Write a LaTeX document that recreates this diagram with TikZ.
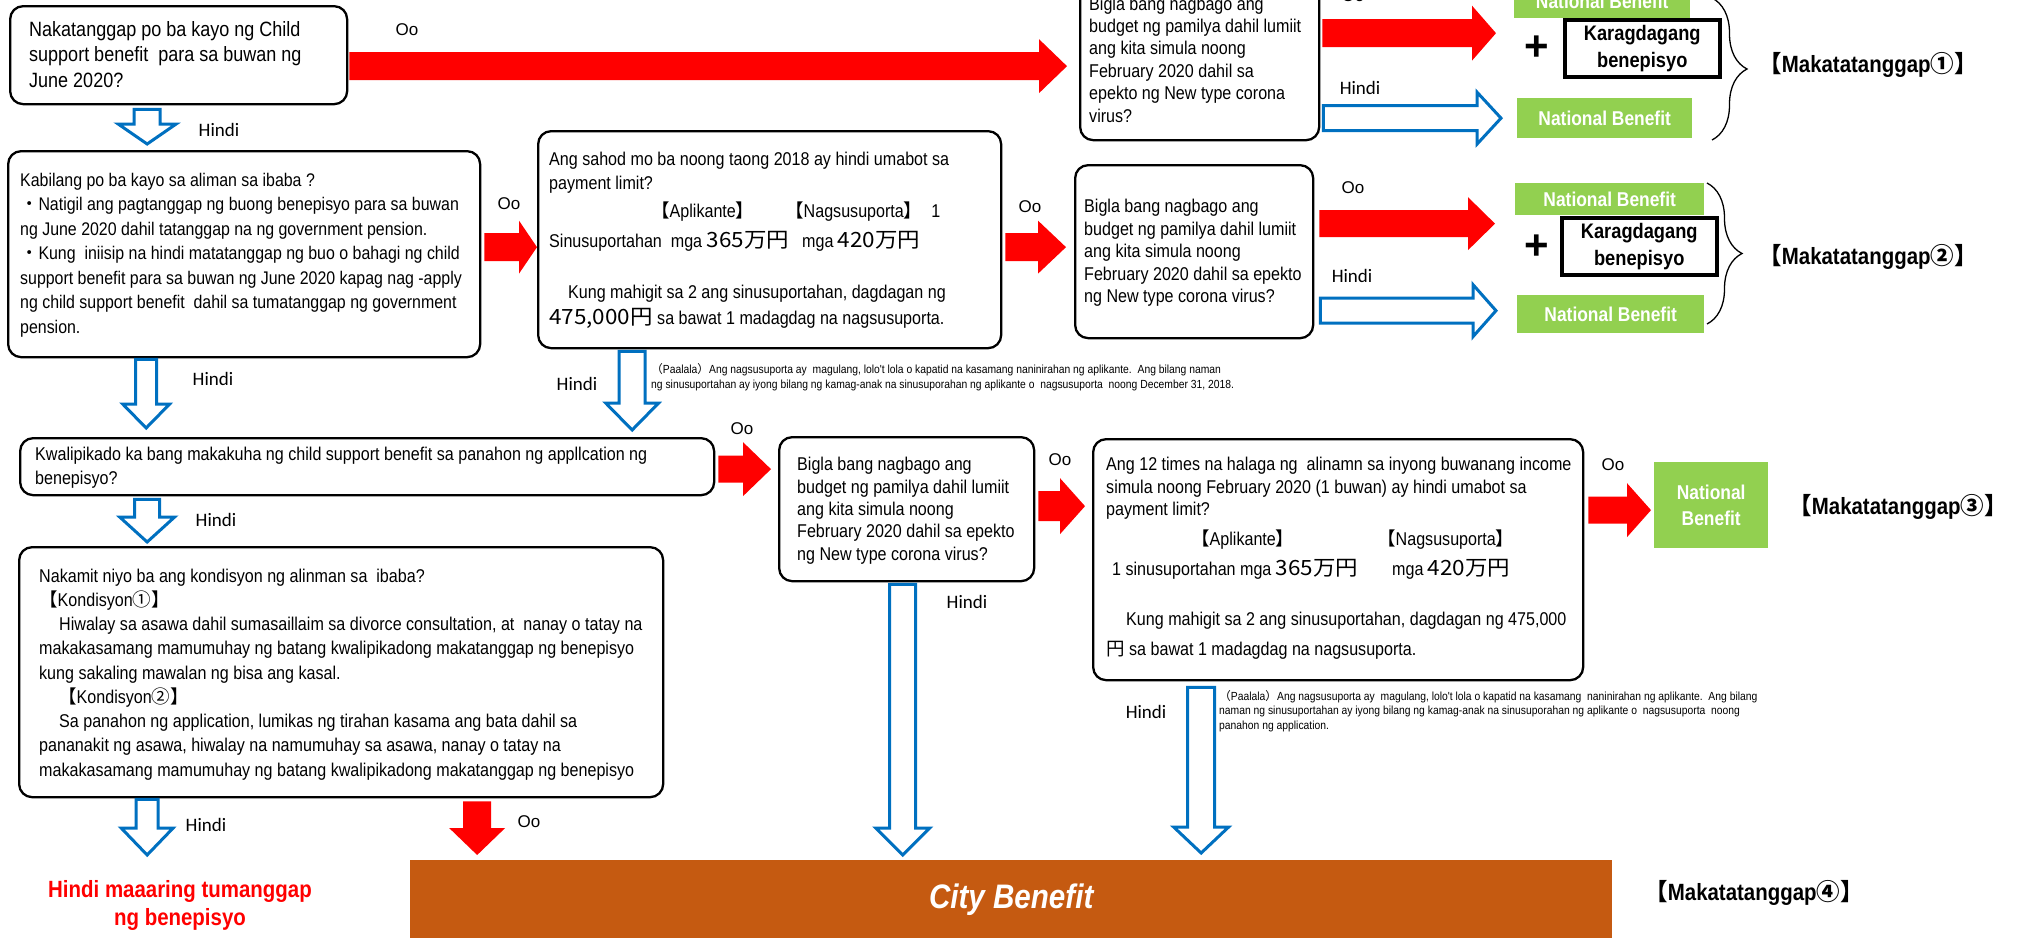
\documentclass[tikz,border=0pt]{standalone}
\usepackage{fontspec}
\setmainfont{Liberation Sans}[FakeStretch=0.87]
\newfontfamily\plainf{Liberation Sans}
\newfontfamily\calib{Carlito}
\newfontfamily\cjk{Noto Sans CJK JP}
\newfontfamily\cjkn{Noto Sans CJK JP}[FakeStretch=1.07]
\newfontfamily\notef{Liberation Sans}[FakeStretch=0.88]
\usetikzlibrary{calc,decorations.pathreplacing}
\definecolor{xred}{HTML}{FF0000}
\definecolor{xblue}{HTML}{0070C0}
\definecolor{xgreen}{HTML}{92D050}
\definecolor{xbrown}{HTML}{C55A11}
\newcommand\setfs[2]{\fontsize{#1pt}{#2pt}\selectfont}
\newcommand\jlb{{\cjk 【}}
\newcommand\jrb{{\cjk 】}}
\newcommand\jn[1]{{\cjkn\fontsize{21pt}{21pt}\selectfont #1}}
% horizontal block arrow: style, start, tip, body half, head half, head length
\newcommand\hblk[6]{\path[#1] let \p1=#2, \p2=#3 in
  (\x1,\y1+#4) -- (\x2-#6,\y1+#4) -- (\x2-#6,\y1+#5) -- (\x2,\y1) -- (\x2-#6,\y1-#5) -- (\x2-#6,\y1-#4) -- (\x1,\y1-#4) -- cycle;}
% vertical (downward) block arrow
\newcommand\vblk[6]{\path[#1] let \p1=#2, \p2=#3 in
  (\x1-#4,\y1) -- (\x1-#4,\y2+#6) -- (\x1-#5,\y2+#6) -- (\x1,\y2) -- (\x1+#5,\y2+#6) -- (\x1+#4,\y2+#6) -- (\x1+#4,\y1) -- cycle;}
\begin{document}
\begin{tikzpicture}[x=1pt,y=-1pt,
  qbox/.style 2 args={draw=black, line width=2.3pt, rounded corners=13pt, fill=white, anchor=north west, inner sep=0pt, minimum width=#1pt, minimum height=#2pt},
  gbox/.style 2 args={fill=xgreen, anchor=north west, inner sep=0pt, minimum width=#1pt, minimum height=#2pt, text=white, font=\bfseries\setfs{20}{26}, align=center},
  kbox/.style 2 args={draw=black, line width=3.5pt, fill=white, anchor=north west, inner sep=0pt, minimum width=#1pt, minimum height=#2pt, font=\bfseries\setfs{21}{27}, align=center},
  txt/.style={anchor=north west, inner sep=0pt, align=left},
  redblk/.style={fill=xred},
  blueblk/.style={draw=xblue, line width=3pt, fill=white},
  lab/.style={font=\plainf\setfs{17}{20}, inner sep=0pt},
  hin/.style={font=\calib\setfs{19}{22}, inner sep=0pt},
  mk/.style={font=\bfseries\setfs{23.5}{28}, inner sep=0pt}]
\useasboundingbox (0,0) rectangle (2022,938);
\fill[white] (0,0) rectangle (2022,938);

% ---------- boxes ----------
\node[qbox={337}{98}] (b1) at (9,5) {};
\node[qbox={472}{206}] (b2) at (7,150) {};
\node[qbox={463}{217}] (b3) at (537,130) {};
\node[qbox={239}{164}] (q1) at (1079,-25) {};
\node[qbox={238}{173}] (q2) at (1074,164) {};
\node[qbox={694}{57}] (b4) at (19,437) {};
\node[qbox={255}{144}] (q3) at (778,436) {};
\node[qbox={490}{241}] (b5) at (1092,438) {};
\node[qbox={644}{250}] (b6) at (18,546) {};

\node[gbox={176}{34}] (g1) at (1514,-16) {National Benefit};
\node[gbox={175}{40}] (g2) at (1517,98) {National Benefit};
\node[gbox={189}{32}] (g3) at (1515,183) {National Benefit};
\node[gbox={187}{38}] (g4) at (1517,295) {National Benefit};
\node[gbox={114}{86}] (g5) at (1654,462) {National\\Benefit};

\node[kbox={155}{57}] (k1) at (1563,18) {Karagdagang\\benepisyo};
\node[kbox={155}{57}] (k2) at (1560,216) {Karagdagang\\benepisyo};
\node[font=\plainf\bfseries\setfs{42}{42}, inner sep=0pt] (p1) at (1537,48) {+};
\node[font=\plainf\bfseries\setfs{42}{42}, inner sep=0pt] (p2) at (1537,247) {+};

\node[fill=xbrown, anchor=north west, minimum width=1202pt, minimum height=78pt, inner sep=0pt, text=white, font=\bfseries\itshape\setfs{34}{34}] (city) at (410,860) {City Benefit};

% ---------- braces ----------
\draw[decorate, decoration={brace, amplitude=35pt}, line width=1.3pt] (1712,-2) -- (1712,140);
\draw[decorate, decoration={brace, amplitude=35pt}, line width=1.3pt] (1707,183) -- (1707,324);

% ---------- red arrows ----------
\hblk{redblk}{($(b1.east)+(1,11)$)}{($(q1.west)+(-12,0)$)}{14pt}{27pt}{28pt}
\hblk{redblk}{($(b2.east)+(3,-7)$)}{(b3.west)}{14pt}{26.5pt}{18pt}
\hblk{redblk}{($(b3.east)+(3,7.5)$)}{($(q2.west)+(-8,0)$)}{14pt}{26.5pt}{28pt}
\hblk{redblk}{($(q1.east)+(2,-25)$)}{($(g1.west)+(-18,0)$)}{14pt}{27.5pt}{24pt}
\hblk{redblk}{($(q2.east)+(5,-28)$)}{($(g3.west)+(-20,0)$)}{13.5pt}{26.5pt}{27pt}
\hblk{redblk}{($(b4.east)+(3,2.5)$)}{($(q3.west)+(-7,0)$)}{13.5pt}{27pt}{28pt}
\hblk{redblk}{($(q3.east)+(3,-3)$)}{($(b5.west)+(-7,0)$)}{15pt}{28pt}{25pt}
\hblk{redblk}{($(b5.east)+(4,-49.5)$)}{($(g5.west)+(-3,0)$)}{13.5pt}{27pt}{24pt}
\vblk{redblk}{($(b6.south)+(136,3)$)}{($(city.north)+(0,-5)$)}{14pt}{28pt}{27pt}

% ---------- blue arrows ----------
\hblk{blueblk}{($(q1.east)+(3,60)$)}{($(g2.west)+(-16,0)$)}{12.5pt}{26pt}{24pt}
\hblk{blueblk}{($(q2.east)+(6,59)$)}{($(g4.west)+(-21,0)$)}{12.5pt}{26pt}{23pt}
\vblk{blueblk}{($(b1.south)+(-31.5,4)$)}{($(b2.north)+(0,-6)$)}{13pt}{29pt}{20pt}
\vblk{blueblk}{($(b2.south)+(-98,1)$)}{($(b4.north)+(0,-9)$)}{10.5pt}{23.5pt}{24pt}
\vblk{blueblk}{($(b3.south)+(-137.5,2)$)}{($(b4.north)+(0,-7)$)}{13pt}{26.5pt}{27pt}
\vblk{blueblk}{($(b4.south)+(-220,3)$)}{($(b6.north)+(0,-4)$)}{12.5pt}{27.5pt}{25pt}
\vblk{blueblk}{($(q3.south)+(-4,2)$)}{($(city.north)+(0,-5)$)}{13pt}{27pt}{27pt}
\vblk{blueblk}{($(b5.south)+(-137,6)$)}{($(city.north)+(0,-7)$)}{13.5pt}{27.5pt}{26pt}

% ---------- texts in boxes ----------
\node[txt, font=\setfs{20.7}{25.5}] (t1) at (29,18.2) {\strut Nakatanggap po ba kayo ng Child\\support benefit\ \ para sa buwan ng\\June 2020?};
\node[txt, font=\setfs{18.3}{24.5}] (t2) at (20,169) {\strut Kabilang po ba kayo sa aliman sa ibaba ?\\
{\cjk ・}Natigil ang pagtanggap ng buong benepisyo para sa buwan\\
ng June 2020 dahil tatanggap na ng government pension.\\
{\cjk ・}Kung\ \ iniisip na hindi matatanggap ng buo o bahagi ng child\\
support benefit para sa buwan ng June 2020 kapag nag -apply\\
ng child support benefit\ \ dahil sa tumatanggap ng government\\
pension.};
\node[txt, font=\setfs{18.5}{24}] (t3) at (549,148.2) {\strut Ang sahod mo ba noong taong 2018 ay hindi umabot sa\\
payment limit?\\[4pt]
\hspace*{102pt}\makebox[134pt][l]{\jlb Aplikante\jrb}\jlb Nagsusuporta\jrb\ \ 1\\[6pt]
\makebox[253pt][l]{Sinusuportahan\ \ mga \jn{365万円}}mga \jn{420万円}\\[27pt]
\hspace*{19pt}Kung mahigit sa 2 ang sinusuportahan, dagdagan ng\\[2pt]
\jn{475,000円} sa bawat 1 madagdag na nagsusuporta.};
\node[txt, font=\setfs{18.5}{22.4}] (tq1) at (1089,-5.7) {\strut Bigla bang nagbago ang\\budget ng pamilya dahil lumiit\\ang kita simula noong\\February 2020 dahil sa\\epekto ng New type corona\\virus?};
\node[txt, font=\setfs{18.5}{22.5}] (tq2) at (1084,197) {\strut Bigla bang nagbago ang\\budget ng pamilya dahil lumiit\\ang kita simula noong\\February 2020 dahil sa epekto\\ng New type corona virus?};
\node[txt, font=\setfs{18.5}{22.3}] (tq3) at (797,455) {\strut Bigla bang nagbago ang\\budget ng pamilya dahil lumiit\\ang kita simula noong\\February 2020 dahil sa epekto\\ng New type corona virus?};
\node[txt, font=\setfs{18.5}{24}] (t4) at (35,443) {\strut Kwalipikado ka bang makakuha ng child support benefit sa panahon ng appllcation ng\\benepisyo?};
\node[txt, font=\setfs{18.5}{22.5}] (t5) at (1106,455) {\strut Ang 12 times na halaga ng\ \ alinamn sa inyong buwanang income\\
simula noong February 2020 (1 buwan) ay hindi umabot sa\\
payment limit?\\[7.5pt]
\hspace*{85pt}\makebox[186pt][l]{\jlb Aplikante\jrb}\jlb Nagsusuporta\jrb\\[7.5pt]
\hspace*{6pt}\makebox[280pt][l]{1 sinusuportahan mga \jn{365万円}}mga \jn{420万円}\\[27.5pt]
\hspace*{20pt}Kung mahigit sa 2 ang sinusuportahan, dagdagan ng 475,000\\[7.5pt]
{\cjk 円} sa bawat 1 madagdag na nagsusuporta.};
\node[txt, font=\setfs{18.5}{24.25}] (t6) at (39,565) {\strut Nakamit niyo ba ang kondisyon ng alinman sa\ \ ibaba?\\
\jlb Kondisyon{\cjk ①}\jrb\\
\hspace*{20pt}Hiwalay sa asawa dahil sumasaillaim sa divorce consultation, at\ \ nanay o tatay na\\
makakasamang mamumuhay ng batang kwalipikadong makatanggap ng benepisyo\\
kung sakaling mawalan ng bisa ang kasal.\\
\hspace*{19pt}\jlb Kondisyon{\cjk ②}\jrb\\
\hspace*{20pt}Sa panahon ng application, lumikas ng tirahan kasama ang bata dahil sa\\
pananakit ng asawa, hiwalay na namumuhay sa asawa, nanay o tatay na\\
makakasamang mamumuhay ng batang kwalipikadong makatanggap ng benepisyo};

% ---------- notes ----------
\node[txt, font=\notef\setfs{11.75}{15.5}] (n1) at (651,362) {\strut{\cjk （}Paalala{\cjk ）}Ang nagsusuporta ay\ \ magulang, lolo't lola o kapatid na kasamang naninirahan ng aplikante.\ \ Ang bilang naman\\ng sinusuportahan ay iyong bilang ng kamag-anak na sinusuporahan ng aplikante o\ \ nagsusuporta\ \ noong December 31, 2018.};
\node[txt, font=\notef\setfs{11.75}{14.5}] (n2) at (1219,690) {\strut{\cjk （}Paalala{\cjk ）}Ang nagsusuporta ay\ \ magulang, lolo't lola o kapatid na kasamang\ \ naninirahan ng aplikante.\ \ Ang bilang\\naman ng sinusuportahan ay iyong bilang ng kamag-anak na sinusuporahan ng aplikante o\ \ nagsusuporta\ \ noong\\panahon ng application.};

% ---------- outcome labels ----------
\node[anchor=north, inner sep=0pt, align=center, text=xred, font=\bfseries\setfs{23.5}{28}] (nt) at (180,878) {\strut Hindi maaaring tumanggap\\ng benepisyo};
\vblk{blueblk}{($(b6.south)+(-194,1)$)}{($(nt.north)+(0,-23)$)}{11pt}{26pt}{27pt}
\node[mk] (m1) at (1868,65) {\jlb Makatatanggap{\cjk ①}\jrb};
\node[mk] (m2) at (1868,257) {\jlb Makatatanggap{\cjk ②}\jrb};
\node[mk] (m3) at (1898,507) {\jlb Makatatanggap{\cjk ③}\jrb};
\node[mk] (m4) at (1754,893) {\jlb Makatatanggap{\cjk ④}\jrb};

% ---------- arrow labels ----------
\node[lab] (o1) at (407,30) {Oo};
\node[lab] (o2) at (509,204) {Oo};
\node[lab] (o3) at (1030,207) {Oo};
\node[lab] (o4) at (1353,-4) {Oo};
\node[lab] (o5) at (1353,188) {Oo};
\node[lab] (o6) at (742,429) {Oo};
\node[lab] (o7) at (1060,460) {Oo};
\node[lab] (o8) at (1613,465) {Oo};
\node[lab] (o9) at (529,822) {Oo};
\node[hin] (h1) at (219,130) {Hindi};
\node[hin] (h2) at (1360,88) {Hindi};
\node[hin] (h3) at (1352,276) {Hindi};
\node[hin] (h4) at (213,379) {Hindi};
\node[hin] (h5) at (577,384) {Hindi};
\node[hin] (h6) at (216,520) {Hindi};
\node[hin] (h7) at (967,602) {Hindi};
\node[hin] (h8) at (1146,712) {Hindi};
\node[hin] (h9) at (206,825) {Hindi};
\end{tikzpicture}
\end{document}
